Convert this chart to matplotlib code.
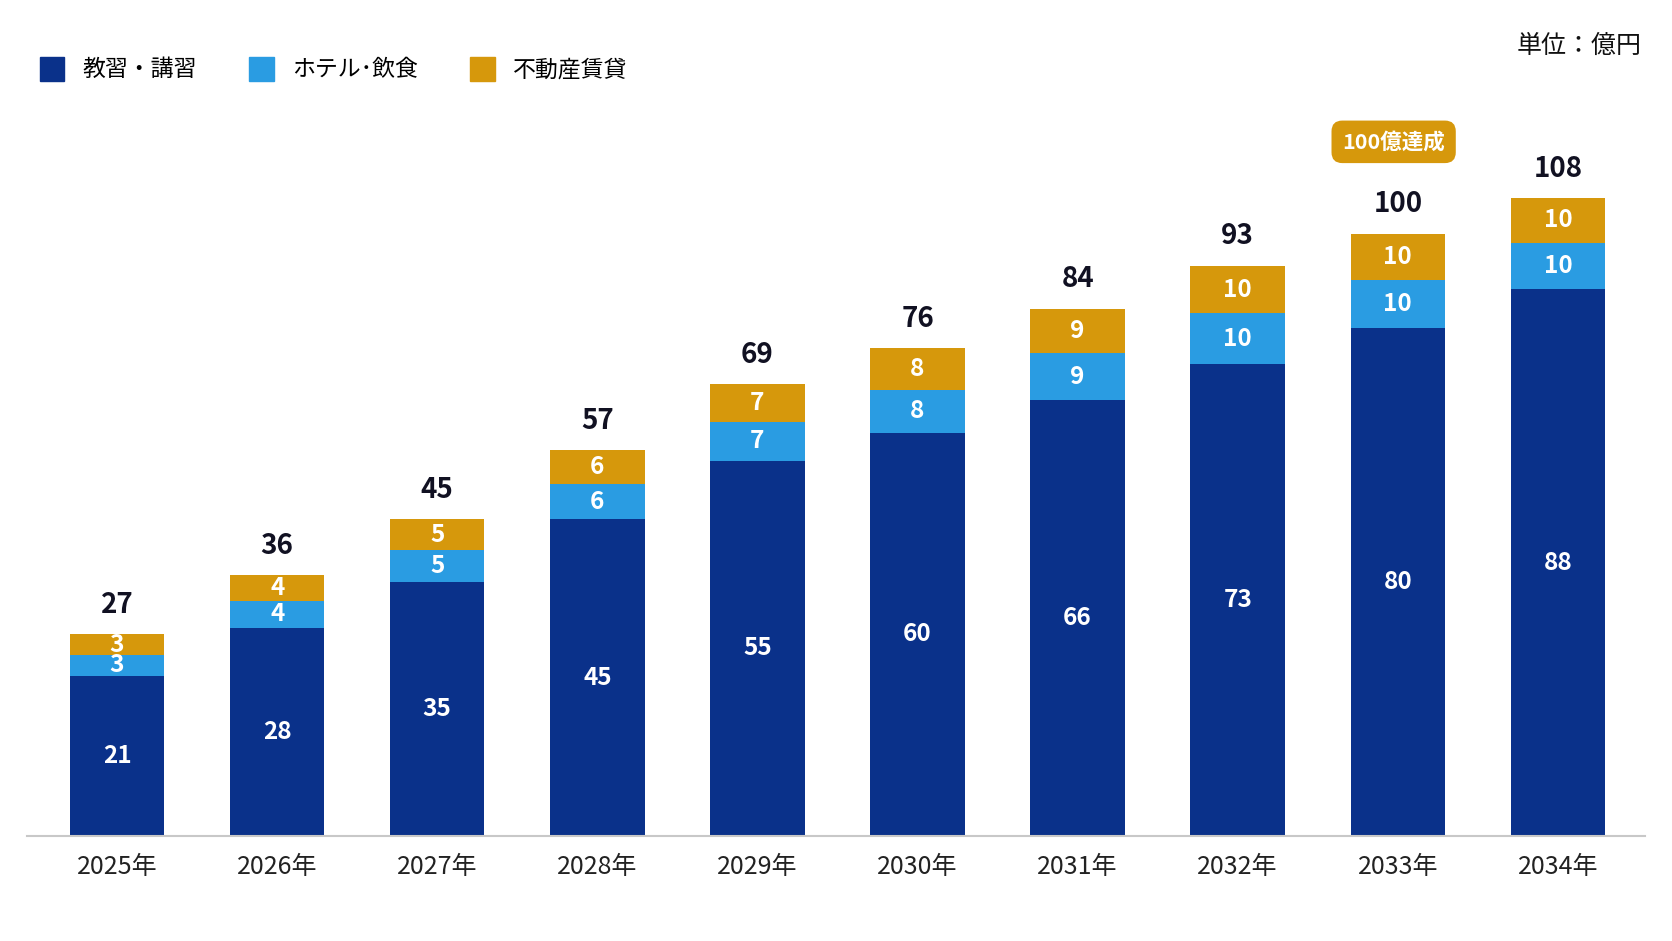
import numpy as np
import matplotlib
matplotlib.use('Agg')
import matplotlib.pyplot as plt
from matplotlib.patches import Patch

plt.rcParams['font.family'] = ['Noto Sans CJK JP', 'DejaVu Sans']

# data (単位：億円)
years    = ['2025年', '2026年', '2027年', '2028年', '2029年',
            '2030年', '2031年', '2032年', '2033年', '2034年']
kyoshu   = [21, 28, 35, 45, 55, 60, 66, 73, 80, 88]   # 教習・講習
hotel    = [3, 4, 5, 6, 7, 8, 9, 10, 10, 10]           # ホテル・飲食
fudosan  = [3, 4, 5, 6, 7, 8, 9, 10, 10, 10]           # 不動産賃貸
series_names = ['教習・講習', 'ホテル･飲食', '不動産賃貸']
badge_year = '2033年'
badge_text = '100億達成'

NAVY = '#0A318A'
BLUE = '#2A9CE2'
GOLD = '#D6980C'
DARK = '#111122'

# the original bars are drawn compressed toward the top, a log-ish scale follows it
C = 120.0
def fwd(v):
	v = np.asarray(v, dtype=float)
	return np.log1p(np.clip(v, -C * 0.99, None) / C)
def inv(v):
	v = np.asarray(v, dtype=float)
	return C * np.expm1(v)

fig = plt.figure(figsize=(16.72, 9.41), dpi=100)
W, H = 1672, 941
ax = fig.add_axes([27 / W, 1 - 836 / H, (1645 - 27) / W, (836 - 198) / H])
ax.set_yscale('function', functions=(fwd, inv))

x = np.arange(len(years))
k = np.array(kyoshu)
h = np.array(hotel)
f = np.array(fudosan)
tot = k + h + f
bw = 0.59

ax.bar(x, k, bw, color=NAVY, label=series_names[0])
ax.bar(x, h, bw, bottom=k, color=BLUE, label=series_names[1])
ax.bar(x, f, bw, bottom=k + h, color=GOLD, label=series_names[2])

def mid(lo, hi):
	return inv((fwd(lo) + fwd(hi)) / 2)

for i in range(len(years)):
	segs = [(0, k[i], k[i]), (k[i], k[i] + h[i], h[i]), (k[i] + h[i], tot[i], f[i])]
	for lo, hi, v in segs:
		ax.text(x[i], mid(lo, hi), str(v), ha='center', va='center',
			color='white', fontsize=17.5, fontweight='bold')
	ax.annotate(str(tot[i]), (x[i], tot[i]), xytext=(0, 21), textcoords='offset points',
		ha='center', va='center', fontsize=20, fontweight='bold', color=DARK,
		annotation_clip=False)

bi = years.index(badge_year)
ax.annotate(badge_text, (x[bi], tot[bi]), xytext=(-3, 66), textcoords='offset points',
	ha='center', va='center', fontsize=15.5, fontweight='bold', color='white',
	annotation_clip=False,
	bbox=dict(boxstyle='round,pad=0.5,rounding_size=0.5', fc=GOLD, ec='none'))

ax.set_xlim(-0.5625, 9.544)
ax.set_ylim(0, 108)
ax.set_xticks(x)
ax.set_xticklabels(years, fontsize=18, color='#222222')
ax.tick_params(axis='x', length=0, pad=13)
ax.set_yticks([])
ax.yaxis.set_minor_locator(matplotlib.ticker.NullLocator())
for s in ['left', 'right', 'top']:
	ax.spines[s].set_visible(False)
ax.spines['bottom'].set_color('#c8c8c8')
ax.spines['bottom'].set_linewidth(1.5)

handles = [Patch(color=NAVY), Patch(color=BLUE), Patch(color=GOLD)]
fig.legend(handles, series_names, loc='center left', bbox_to_anchor=(40 / W, 1 - 69 / H),
	ncol=3, frameon=False, fontsize=16.5, handlelength=1.05, handleheight=1.25,
	handletextpad=0.8, columnspacing=2.3, borderpad=0, borderaxespad=0)

fig.text(1642 / W, 1 - 46 / H, '単位：億円', ha='right', va='center', fontsize=18, color='#111111')

fig.savefig('out.png', dpi=100)
